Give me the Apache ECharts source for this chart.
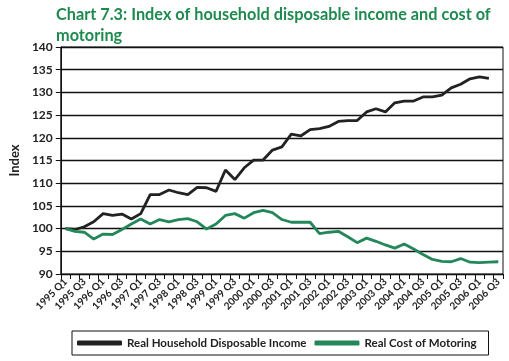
<!DOCTYPE html>
<html><head><meta charset="utf-8">
<script src="https://cdn.jsdelivr.net/npm/echarts@6/dist/echarts.min.js"></script>
<style>html,body{margin:0;padding:0;background:#fff}#c{width:509px;height:361px}</style>
</head><body><div id="c"></div>
<script>
const years = ['1995','1996','1997','1998','1999','2000','2001','2002','2003','2004','2005','2006'];
const categories = [];
years.forEach(y => ['Q1','Q2','Q3','Q4'].forEach(q => categories.push(y + ' ' + q)));
categories.length = 47; // 1995 Q1 .. 2006 Q3

const incomeName = 'Real Household Disposable Income';
const motoringName = 'Real Cost of Motoring';

const income = [100,99.8,100.4,101.5,103.3,102.9,103.2,102.1,103.3,107.5,107.5,108.5,107.9,107.5,109.1,109,
  108.2,112.9,110.8,113.4,115.1,115.1,117.3,118,120.8,120.4,121.8,122,122.5,123.6,123.8,123.8,
  125.7,126.4,125.7,127.7,128.1,128.1,129,129,129.4,131,131.8,133,133.4,133.1];
const motoring = [100,99.4,99.2,97.7,98.8,98.7,99.8,101,102.1,101,102,101.5,102,102.2,101.5,99.9,
  101,102.9,103.3,102.3,103.5,104,103.5,102,101.4,101.4,101.4,98.9,99.2,99.4,98.2,96.9,
  97.9,97.2,96.4,95.7,96.6,95.5,94.3,93.2,92.8,92.7,93.4,92.6,92.5,92.6,92.7];

const yTicks = {min: 90, max: 140, interval: 5};

const chart = echarts.init(document.getElementById('c'));
const FONT = 'Lato';
chart.setOption({
  animation: false,
  title: {
    text: 'Chart 7.3: Index of household disposable income and cost of\nmotoring',
    left: 51, top: -1,
    textStyle: {color: '#1f8a4f', fontFamily: FONT, fontWeight: 'bold', fontSize: 16.3, lineHeight: 21}
  },
  grid: {left: 51, right: 6, top: 47, bottom: 87, show: true, borderColor: '#111', borderWidth: 1},
  legend: {
    left: 72, top: 331,
    padding: [6, 12, 6, 5], itemGap: 8,
    borderColor: '#111', borderWidth: 1,
    itemWidth: 45, itemHeight: 5, icon: 'roundRect',
    textStyle: {fontFamily: FONT, fontWeight: 'bold', fontSize: 11.5, color: '#222'},
    data: [incomeName, motoringName]
  },
  xAxis: {
    type: 'category', data: categories, boundaryGap: true,
    axisLine: {lineStyle: {color: '#111', width: 1}},
    axisTick: {show: true, interval: 0, length: 5, lineStyle: {color: '#111'}},
    axisLabel: {interval: 1, rotate: 45, fontFamily: FONT, fontWeight: 'bold', fontSize: 10, color: '#222', margin: 6}
  },
  yAxis: {
    type: 'value', min: yTicks.min, max: yTicks.max, interval: yTicks.interval,
    name: 'Index', nameLocation: 'middle', nameGap: 39, nameRotate: 90,
    nameTextStyle: {fontFamily: FONT, fontWeight: 'bold', fontSize: 13, color: '#222'},
    axisLine: {show: true, lineStyle: {color: '#111', width: 1}},
    axisTick: {show: true, length: 5, lineStyle: {color: '#111'}},
    axisLabel: {fontFamily: FONT, fontWeight: 'bold', fontSize: 12, color: '#222', margin: 8},
    splitLine: {show: true, lineStyle: {color: '#111', width: 1.3}}
  },
  series: [
    {name: incomeName, type: 'line', data: income, symbol: 'none', color: '#222',
     lineStyle: {width: 2.8, color: '#222'}},
    {name: motoringName, type: 'line', data: motoring, symbol: 'none', color: '#24875a',
     lineStyle: {width: 2.8, color: '#24875a'}}
  ]
});
</script></body></html>
